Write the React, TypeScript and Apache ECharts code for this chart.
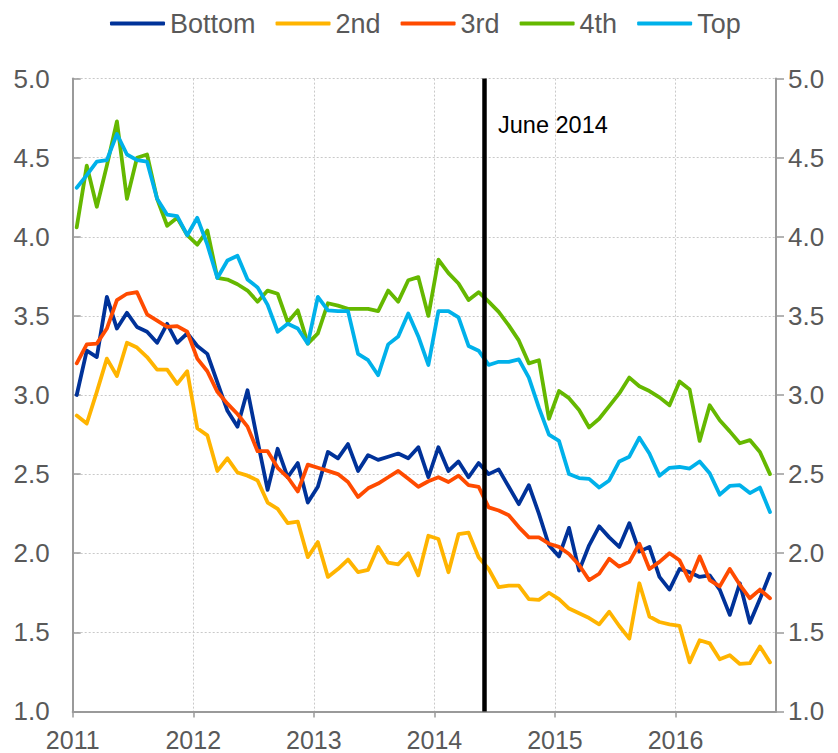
import React, { useEffect, useRef } from "react";
import * as echarts from "echarts";

// Monthly observations, January 2011 to October 2016
const startYear = 2011;
const yearLabels = ["2011", "2012", "2013", "2014", "2015", "2016"];
const seriesNames = ["Bottom", "2nd", "3rd", "4th", "Top"];
const markerLabel = "June 2014";
const markerMonth = 41; // months after Jan 2011 -> June 2014

const bottom = [
  3.0, 3.28, 3.24, 3.62, 3.42, 3.52, 3.43, 3.4, 3.33, 3.45, 3.33, 3.39,
  3.31, 3.26, 3.08, 2.9, 2.8, 3.03, 2.71, 2.4, 2.66, 2.48, 2.57, 2.32,
  2.42, 2.64, 2.6, 2.69, 2.52, 2.62, 2.59, 2.61, 2.63, 2.6, 2.67, 2.48,
  2.67, 2.52, 2.58, 2.48, 2.57, 2.5, 2.53, 2.42, 2.31, 2.43, 2.25, 2.05,
  1.98, 2.16, 1.89, 2.05, 2.17, 2.1, 2.04, 2.19, 2.01, 2.04, 1.85, 1.77,
  1.9, 1.88, 1.85, 1.86, 1.77, 1.61, 1.81, 1.56, 1.71, 1.87,
];
const second = [
  2.87, 2.82, 3.02, 3.23, 3.12, 3.33, 3.3, 3.24, 3.16, 3.16, 3.07, 3.15,
  2.79, 2.745, 2.52, 2.6, 2.51, 2.49, 2.46, 2.32, 2.28, 2.19, 2.2, 1.975,
  2.07, 1.85, 1.9, 1.96, 1.88, 1.895, 2.04, 1.94, 1.93, 2.0, 1.86, 2.11,
  2.09, 1.88, 2.12, 2.13, 1.975, 1.9, 1.785, 1.795, 1.795, 1.71, 1.705, 1.75,
  1.71, 1.65, 1.62, 1.59, 1.55, 1.63, 1.54, 1.46, 1.81, 1.6, 1.565, 1.55,
  1.54, 1.31, 1.45, 1.43, 1.33, 1.355, 1.3, 1.305, 1.41, 1.31,
];
const third = [
  3.2, 3.32, 3.325, 3.42, 3.6, 3.64, 3.65, 3.51, 3.47, 3.43, 3.435, 3.4,
  3.23, 3.15, 3.02, 2.945, 2.88, 2.8, 2.645, 2.645, 2.54, 2.48, 2.39, 2.56,
  2.54, 2.52, 2.5, 2.45, 2.355, 2.41, 2.44, 2.48, 2.52, 2.47, 2.42, 2.455,
  2.48, 2.45, 2.49, 2.43, 2.42, 2.29, 2.27, 2.24, 2.165, 2.1, 2.1, 2.06,
  2.04, 1.995, 1.925, 1.83, 1.87, 1.965, 1.915, 1.945, 2.06, 1.9, 1.945, 2.0,
  1.955, 1.825, 1.98, 1.83, 1.79, 1.9, 1.8, 1.715, 1.77, 1.715,
];
const fourth = [
  4.06, 4.45, 4.19, 4.45, 4.73, 4.24, 4.5, 4.52, 4.24, 4.07, 4.12, 4.01,
  3.95, 4.04, 3.74, 3.73, 3.7, 3.66, 3.59, 3.66, 3.64, 3.46, 3.535, 3.325,
  3.39, 3.58, 3.565, 3.545, 3.545, 3.545, 3.53, 3.66, 3.59, 3.725, 3.745, 3.5,
  3.855, 3.77, 3.705, 3.6, 3.65, 3.59, 3.525, 3.44, 3.345, 3.2, 3.22, 2.85,
  3.025, 2.98, 2.905, 2.795, 2.85, 2.93, 3.01, 3.11, 3.055, 3.025, 2.985, 2.935,
  3.085, 3.035, 2.71, 2.935, 2.84, 2.77, 2.695, 2.715, 2.64, 2.5,
];
const top = [
  4.31, 4.39, 4.475, 4.485, 4.65, 4.52, 4.485, 4.475, 4.24, 4.14, 4.13, 4.01,
  4.12, 3.95, 3.74, 3.85, 3.88, 3.73, 3.68, 3.57, 3.4, 3.45, 3.42, 3.325,
  3.62, 3.535, 3.53, 3.53, 3.26, 3.22, 3.125, 3.32, 3.37, 3.515, 3.37, 3.19,
  3.53, 3.53, 3.49, 3.31, 3.28, 3.19, 3.21, 3.21, 3.225, 3.11, 2.92, 2.75,
  2.71, 2.5, 2.475, 2.47, 2.415, 2.46, 2.58, 2.61, 2.73, 2.63, 2.49, 2.54,
  2.545, 2.535, 2.58, 2.505, 2.37, 2.425, 2.43, 2.38, 2.415, 2.26,
];

const allSeries = [bottom, second, third, fourth, top];
const colors = ["#003299", "#FFB400", "#FF4B00", "#65B800", "#00B1EA"];

const FONT = "'Liberation Sans', Arial, sans-serif";
const LABEL_COLOR = "#595959";
const AXIS_COLOR = "#9a9a9a";
const GRID_COLOR = "#c9c9c9";

// observation date sits a little into each month
const monthOffset = 0.4;

export default function App() {
  const ref = useRef<HTMLDivElement>(null);

  useEffect(() => {
    if (!ref.current) return;
    const chart = echarts.init(ref.current, undefined, { renderer: "svg" });

    const yAxisBase = {
      type: "value",
      min: 1,
      max: 5,
      interval: 0.5,
      axisLine: { show: true, lineStyle: { color: AXIS_COLOR, width: 2 } },
      axisLabel: {
        color: LABEL_COLOR,
        fontSize: 26,
        fontFamily: FONT,
        formatter: (v: number) => v.toFixed(1),
      },
    };

    const option: any = {
      animation: false,
      color: colors,
      grid: { left: 72.7, right: 62, top: 78.6, bottom: 41.6, containLabel: false },
      legend: {
        data: seriesNames,
        left: 105,
        top: 5,
        icon: "roundRect",
        itemWidth: 55,
        itemHeight: 4,
        itemGap: 20,
        textStyle: { color: LABEL_COLOR, fontSize: 27, fontFamily: FONT },
      },
      xAxis: {
        type: "value",
        min: 0,
        max: 70,
        interval: 12,
        axisLine: { show: true, onZero: false, lineStyle: { color: AXIS_COLOR, width: 2 } },
        axisTick: { show: true, inside: false, length: 6, lineStyle: { color: AXIS_COLOR, width: 1.5 } },
        splitLine: { show: true, lineStyle: { color: GRID_COLOR, type: [2, 2], width: 1 } },
        axisLabel: {
          color: LABEL_COLOR,
          fontSize: 25,
          fontFamily: FONT,
          margin: 16,
          showMaxLabel: false,
          formatter: (v: number) => (v % 12 === 0 ? yearLabels[v / 12] ?? String(startYear + v / 12) : ""),
        },
      },
      yAxis: [
        {
          ...yAxisBase,
          position: "left",
          axisTick: { show: true, inside: true, length: 8, lineStyle: { color: AXIS_COLOR, width: 1.5 } },
          splitLine: { show: true, lineStyle: { color: GRID_COLOR, type: [2, 2], width: 1 } },
          axisLabel: { ...yAxisBase.axisLabel, margin: 23 },
        },
        {
          ...yAxisBase,
          position: "right",
          axisTick: { show: true, inside: false, length: 8, lineStyle: { color: AXIS_COLOR, width: 1.5 } },
          splitLine: { show: false },
          axisLabel: { ...yAxisBase.axisLabel, margin: 12 },
        },
      ],
      series: allSeries.map((vals, si) => ({
        name: seriesNames[si],
        type: "line",
        yAxisIndex: 0,
        showSymbol: false,
        symbol: "none",
        lineStyle: { width: 3.8, color: colors[si], cap: "round", join: "round" },
        itemStyle: { color: colors[si] },
        data: vals.map((v, i) => [i + monthOffset, v]),
        z: 2 + si,
        markLine:
          si === 0
            ? {
                silent: true,
                symbol: ["none", "none"],
                label: { show: false },
                lineStyle: { color: "#000000", width: 4.5, type: "solid" },
                data: [{ xAxis: markerMonth }],
                z: 10,
              }
            : undefined,
      })),
      graphic: [
        {
          type: "text",
          left: 498,
          top: 113,
          z: 20,
          style: { text: markerLabel, fill: "#000000", fontSize: 23.5, fontFamily: FONT },
        },
      ],
    };

    chart.setOption(option);
    return () => chart.dispose();
  }, []);

  return (
    <div
      ref={ref}
      style={{ position: "fixed", left: 0, top: 0, width: 838, height: 753, background: "#ffffff" }}
    />
  );
}
